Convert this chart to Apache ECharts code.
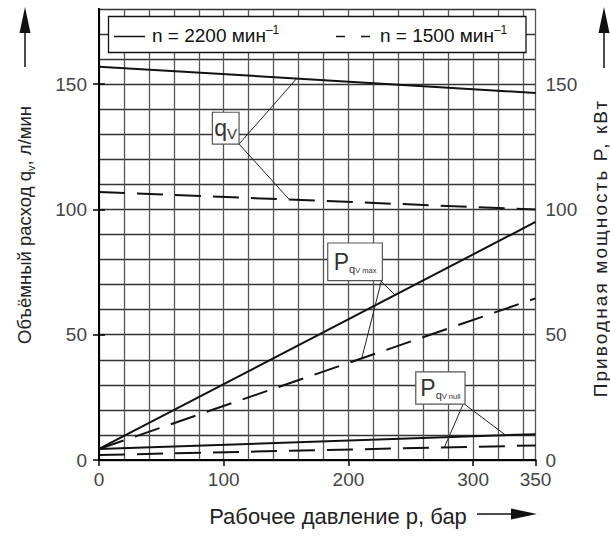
<!DOCTYPE html>
<html>
<head>
<meta charset="utf-8">
<script src="https://cdn.jsdelivr.net/npm/echarts@6/dist/echarts.min.js"></script>
<style>
  html, body { margin: 0; padding: 0; background: #fff; }
  #chart { width: 610px; height: 536px; }
</style>
</head>
<body>
<div id="chart"></div>
<script>
// Operating pressure, bar
const pressure = [0, 350];
// Delivery flow q_V, l/min
const qv2200 = [157, 146.5];
const qv1500 = [107, 100];
// Drive power at maximum displacement, kW
const pMax2200 = [4.4, 95];
const pMax1500 = [4.4, 64.5];
// Drive power at zero displacement, kW
const pNull2200 = [4.4, 10.3];
const pNull1500 = [2, 5.8];

// Labelled ticks
const xTicks = [0, 100, 200, 300, 350];
const yTicks = [0, 50, 100, 150];

// Legend captions
const speed2200 = 'n = 2200 мин';
const speed1500 = 'n = 1500 мин';

const FONT = '"Liberation Sans", Arial, sans-serif';
const DASH = [26, 12];

const pairs = (vals) => pressure.map((p, i) => [p, vals[i]]);
// value of a curve at pressure p (curves are straight between their points)
function valueAt(vals, p) {
  for (let i = 1; i < pressure.length; i++) {
    if (p <= pressure[i]) {
      const t = (p - pressure[i - 1]) / (pressure[i] - pressure[i - 1]);
      return vals[i - 1] + t * (vals[i] - vals[i - 1]);
    }
  }
  return vals[vals.length - 1];
}

// Callout boxes (data coordinates of the box corners) and leader lines
const callouts = [
  { text: '{a|q}{b|V}', box: [90.9, 138.8, 112.3, 126.1],
    leaders: [{ from: [112.3, 126.1], curve: qv2200, at: 158.5 },
              { from: [112.3, 126.1], curve: qv1500, at: 152.6 }] },
  { text: '{a|P}{c|q}{d|V max}', box: [183.4, 86.6, 227.2, 71.6],
    leaders: [{ from: [225.6, 71.6], curve: pMax2200, at: 237.4 },
              { from: [226.5, 71.6], curve: pMax1500, at: 210.7 }] },
  { text: '{a|P}{c|q}{d|V null}', box: [254, 35.2, 293.5, 22.3],
    leaders: [{ from: [293, 22.3], curve: pNull2200, at: 326.1 },
              { from: [292, 22.3], curve: pNull1500, at: 276.9 }] }
];

const curve = (name, vals, dashed) => ({
  type: 'line', name, data: pairs(vals), symbol: 'none', silent: true,
  xAxisIndex: 1, yAxisIndex: 1,
  lineStyle: { color: '#111', width: 2, type: dashed ? DASH : 'solid' }, z: 4
});

const series = [
  curve(speed2200, qv2200, false),
  curve(speed1500, qv1500, true),
  curve(speed2200, pMax2200, false),
  curve(speed1500, pMax1500, true),
  curve(speed2200, pNull2200, false),
  curve(speed1500, pNull1500, true)
];
callouts.forEach(c => c.leaders.forEach(l => {
  series.push({
    type: 'line', data: [l.from, [l.at, valueAt(l.curve, l.at)]], symbol: 'none', silent: true,
    xAxisIndex: 1, yAxisIndex: 1,
    lineStyle: { color: '#222', width: 1 }, z: 5
  });
}));

const tickLabel = { fontFamily: FONT, fontSize: 19, color: '#444' };
const plot = { left: 99, right: 74.5, top: 9, bottom: 76 };
const tickStyle = { show: true, customValues: null, length: 6, lineStyle: { color: '#000', width: 1.5 } };

const chart = echarts.init(document.getElementById('chart'), null, { renderer: 'svg' });
chart.setOption({
  animation: false,
  backgroundColor: '#fff',
  // grid 0 carries the fine ruling, grid 1 the labelled frame and the curves
  grid: [{ ...plot }, { ...plot }],
  xAxis: [{
    gridIndex: 0, type: 'value', min: 0, max: 350, interval: 20,
    axisLine: { show: false }, axisTick: { show: false }, axisLabel: { show: false },
    splitLine: { show: true, lineStyle: { color: '#555', width: 1.3 } }
  }, {
    gridIndex: 1, type: 'value', min: 0, max: 350, z: 3,
    axisLine: { lineStyle: { color: '#000', width: 2 } },
    axisTick: { ...tickStyle, customValues: xTicks },
    axisLabel: { customValues: xTicks, margin: 10, ...tickLabel },
    splitLine: { show: false }
  }, {
    gridIndex: 1, type: 'value', position: 'top', min: 0, max: 350, z: 3,
    axisLine: { show: true, lineStyle: { color: '#000', width: 1.5 } },
    axisTick: { show: false }, axisLabel: { show: false }, splitLine: { show: false }
  }],
  yAxis: [{
    gridIndex: 0, type: 'value', min: 0, max: 180, interval: 10,
    axisLine: { show: false }, axisTick: { show: false }, axisLabel: { show: false },
    splitLine: { show: true, lineStyle: { color: '#333', width: 1.3 } }
  }, {
    gridIndex: 1, type: 'value', min: 0, max: 180, z: 3,
    axisLine: { show: true, lineStyle: { color: '#000', width: 2 } },
    axisTick: { ...tickStyle, customValues: yTicks },
    axisLabel: { customValues: yTicks, margin: 12, ...tickLabel },
    splitLine: { show: false }
  }, {
    gridIndex: 1, type: 'value', position: 'right', min: 0, max: 180, z: 3,
    axisLine: { show: true, lineStyle: { color: '#000', width: 2 } },
    axisTick: { ...tickStyle, customValues: yTicks },
    axisLabel: { customValues: yTicks, margin: 10, ...tickLabel },
    splitLine: { show: false }
  }],
  series
});

const toPx = (p) => chart.convertToPixel({ xAxisIndex: 1, yAxisIndex: 1 }, p);

const graphic = [];

// Callout boxes
callouts.forEach(c => {
  const tl = toPx([c.box[0], c.box[1]]);
  const br = toPx([c.box[2], c.box[3]]);
  graphic.push({
    type: 'rect', z: 20,
    shape: { x: tl[0], y: tl[1], width: br[0] - tl[0], height: br[1] - tl[1] },
    style: { fill: '#fff', stroke: '#555', lineWidth: 1.2 }
  });
  graphic.push({
    type: 'text', z: 21,
    x: (tl[0] + br[0]) / 2, y: (tl[1] + br[1]) / 2,
    style: {
      text: c.text, align: 'center', verticalAlign: 'middle',
      rich: {
        a: { fontFamily: FONT, fontSize: 23, fill: '#333', lineHeight: 26 },
        b: { fontFamily: FONT, fontSize: 15, fill: '#333', verticalAlign: 'bottom', lineHeight: 26 },
        c: { fontFamily: FONT, fontSize: 11, fill: '#333', verticalAlign: 'bottom', lineHeight: 24 },
        d: { fontFamily: FONT, fontSize: 7.5, fill: '#333', verticalAlign: 'bottom', lineHeight: 20 }
      }
    }
  });
});

// Legend
const legendRich = {
  t: { fontFamily: FONT, fontSize: 19, fill: '#111', lineHeight: 22 },
  s: { fontFamily: FONT, fontSize: 12, fill: '#111', verticalAlign: 'top', lineHeight: 22 }
};
graphic.push(
  { type: 'rect', z: 20, shape: { x: 108.5, y: 16.5, width: 417.5, height: 36 },
    style: { fill: '#fff', stroke: '#111', lineWidth: 1.3 } },
  { type: 'line', z: 21, shape: { x1: 114, y1: 36.5, x2: 145, y2: 36.5 },
    style: { stroke: '#111', lineWidth: 1.5 } },
  { type: 'text', z: 21, x: 152, y: 35,
    style: { text: '{t|' + speed2200 + '}{s|–1}', verticalAlign: 'middle', rich: legendRich } },
  { type: 'line', z: 21, shape: { x1: 336, y1: 36.5, x2: 345, y2: 36.5 },
    style: { stroke: '#111', lineWidth: 1.5 } },
  { type: 'line', z: 21, shape: { x1: 361, y1: 36.5, x2: 370, y2: 36.5 },
    style: { stroke: '#111', lineWidth: 1.5 } },
  { type: 'text', z: 21, x: 380, y: 35,
    style: { text: '{t|' + speed1500 + '}{s|–1}', verticalAlign: 'middle', rich: legendRich } }
);

// Axis titles with arrows
const titleRich = (size) => ({
  t: { fontFamily: FONT, fontSize: size, fill: '#222', lineHeight: 24 },
  v: { fontFamily: FONT, fontSize: Math.round(size * 0.62), fill: '#222', verticalAlign: 'bottom', lineHeight: 24 }
});
graphic.push(
  { type: 'text', x: 24, y: 225, rotation: Math.PI / 2,
    style: { text: '{t|Объёмный расход q}{v|v}{t|, л/мин}', align: 'center', verticalAlign: 'middle', rich: titleRich(18.5) } },
  { type: 'text', id: 'powerTitle', x: 600, y: 248, rotation: Math.PI / 2,
    style: { text: 'Приводная мощность P, кВт', align: 'center', verticalAlign: 'middle',
             fontFamily: FONT, fontSize: 19, fill: '#222' } },
  { type: 'text', x: 338, y: 516,
    style: { text: '{t|Рабочее давление p, бар}', align: 'center', verticalAlign: 'middle', rich: titleRich(22) } },
  // left arrow
  { type: 'line', shape: { x1: 25, y1: 67, x2: 25, y2: 30 }, style: { stroke: '#111', lineWidth: 1.5 } },
  { type: 'polygon', shape: { points: [[25, 7], [19.5, 33], [30.5, 33]] }, style: { fill: '#111' } },
  // right arrow
  { type: 'line', shape: { x1: 604, y1: 68, x2: 604, y2: 30 }, style: { stroke: '#111', lineWidth: 1.5 } },
  { type: 'polygon', shape: { points: [[604, 7], [598.5, 33], [609.5, 33]] }, style: { fill: '#111' } },
  // bottom arrow
  { type: 'line', shape: { x1: 477, y1: 514, x2: 515, y2: 514 }, style: { stroke: '#111', lineWidth: 1.5 } },
  { type: 'polygon', shape: { points: [[537, 514], [511, 508.5], [511, 519.5]] }, style: { fill: '#111' } }
);

chart.setOption({ graphic });

// the power axis title is set with open letter spacing
document.querySelectorAll('#chart text').forEach(t => {
  if (t.textContent.indexOf('Приводная') === 0) {
    t.setAttribute('letter-spacing', '2.1');
  }
});
</script>
</body>
</html>
